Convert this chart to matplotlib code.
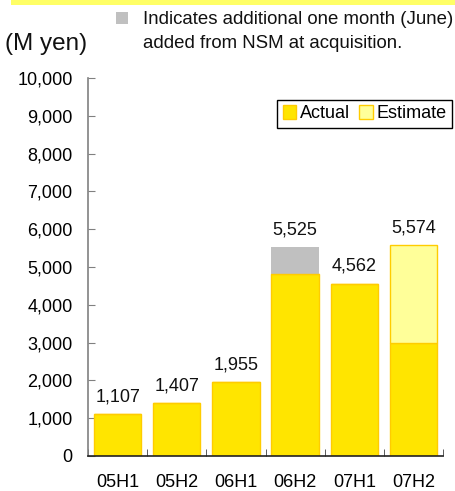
import matplotlib
matplotlib.use("Agg")
import matplotlib.pyplot as plt
from matplotlib.patches import Rectangle, Patch

plt.rcParams['font.family'] = ['Liberation Sans', 'DejaVu Sans']

categories = ["05H1", "05H2", "06H1", "06H2", "07H1", "07H2"]
actual = [1107, 1407, 1955, 4810, 4562, 3000]
nsm_extra = [0, 0, 0, 715, 0, 0]
estimate = [0, 0, 0, 0, 0, 2574]
totals = [1107, 1407, 1955, 5525, 4562, 5574]
yticks = list(range(0, 10001, 1000))

fig = plt.figure(figsize=(4.55, 4.91), dpi=100)
W, H = 455, 491
ax = fig.add_axes([88 / W, 1 - 456 / H, (443 - 88) / W, (456 - 78) / H])

x = list(range(len(categories)))
c_act = "#FFE500"
c_edge = "#FFCC00"
c_est = "#FFFF99"
c_gray = "#C0C0C0"
ax.bar(x, actual, width=0.8, color=c_act, edgecolor=c_edge, linewidth=1.0, zorder=2)
bottoms2 = actual
ax.bar(x, nsm_extra, width=0.8, bottom=bottoms2, color=c_gray, edgecolor="none", linewidth=0, zorder=2)
ax.bar(x, estimate, width=0.8, bottom=bottoms2, color=c_est, edgecolor=c_edge, linewidth=1.0, zorder=2)

for xi, t in zip(x, totals):
    ax.text(xi, t + 230, f"{t:,}", ha="center", va="bottom", fontsize=13, color="#111111")

ax.set_xlim(-0.5, len(categories) - 0.5)
ax.set_ylim(0, 10000)
ax.set_yticks(yticks)
ax.set_yticklabels([f"{v:,}" for v in yticks], fontsize=13)
ax.set_xticks(x)
ax.set_xticklabels(categories, fontsize=13)
ax.set_xticks([i + 0.5 for i in x[:-1]] + [-0.5, len(categories) - 0.5], minor=True)
ax.tick_params(axis="x", which="major", length=0, pad=13)
ax.tick_params(axis="x", which="minor", direction="in", length=5, color="#404040")
ax.tick_params(axis="y", direction="in", length=5, color="#808080", pad=11)

for s in ["top", "right"]:
    ax.spines[s].set_visible(False)
ax.spines["left"].set_color("#808080")
ax.spines["left"].set_linewidth(1.2)
ax.spines["bottom"].set_color("#222222")
ax.spines["bottom"].set_linewidth(1.2)

handles = [Patch(facecolor=c_act, edgecolor=c_edge, label="Actual"),
           Patch(facecolor=c_est, edgecolor=c_edge, label="Estimate")]
leg = ax.legend(handles=handles, loc="upper right", bbox_to_anchor=(1.025, 0.942), ncol=2,
                fontsize=13, frameon=True, fancybox=False, handlelength=0.75, handleheight=0.75,
                handletextpad=0.2, columnspacing=0.5, borderpad=0.3, borderaxespad=0)
leg.get_frame().set_edgecolor("#000000")
leg.get_frame().set_linewidth(1.0)
leg.get_frame().set_facecolor("white")
leg.get_frame().set_alpha(1)
leg.set_zorder(5)

# top banner
fig.patches.append(Rectangle((11 / W, 1 - 5 / H), (W - 11) / W, 5 / H, transform=fig.transFigure,
                             facecolor="#FFFF66", edgecolor="none"))
# gray note square and text
fig.patches.append(Rectangle((116 / W, 1 - 24 / H), 12 / W, 12 / H, transform=fig.transFigure,
                             facecolor=c_gray, edgecolor="none"))
fig.text(143 / W, 1 - 20 / H, "Indicates additional one month (June)",
         ha="left", va="center", fontsize=13.4, color="#111111")
fig.text(143 / W, 1 - 43 / H, "added from NSM at acquisition.",
         ha="left", va="center", fontsize=13.4, color="#111111")
fig.text(5 / W, 1 - 44 / H, "(M yen)", ha="left", va="center", fontsize=17.5, color="#111111")

fig.savefig("out.png", dpi=100)
